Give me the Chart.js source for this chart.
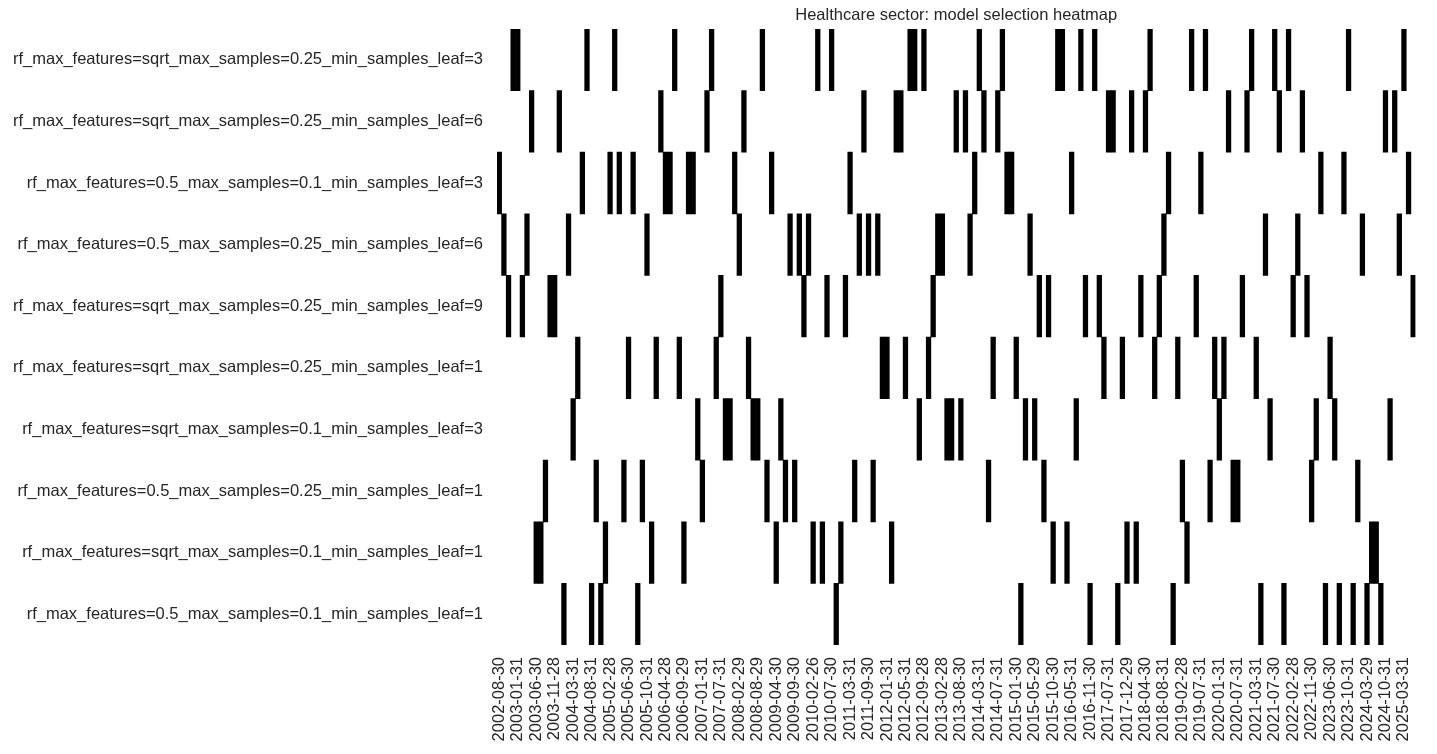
<!DOCTYPE html>
<html>
<head>
<meta charset="utf-8">
<script src="https://cdn.jsdelivr.net/npm/chart.js@4"></script>
<style>
  html, body { margin: 0; padding: 0; background: #fff; }
  #wrap { width: 1437px; height: 754px; }
</style>
</head>
<body>
<div id="wrap"><canvas id="chart"></canvas></div>
<script>
// Model names (rows, top to bottom)
const models = [
  'rf_max_features=sqrt_max_samples=0.25_min_samples_leaf=3',
  'rf_max_features=sqrt_max_samples=0.25_min_samples_leaf=6',
  'rf_max_features=0.5_max_samples=0.1_min_samples_leaf=3',
  'rf_max_features=0.5_max_samples=0.25_min_samples_leaf=6',
  'rf_max_features=sqrt_max_samples=0.25_min_samples_leaf=9',
  'rf_max_features=sqrt_max_samples=0.25_min_samples_leaf=1',
  'rf_max_features=sqrt_max_samples=0.1_min_samples_leaf=3',
  'rf_max_features=0.5_max_samples=0.25_min_samples_leaf=1',
  'rf_max_features=sqrt_max_samples=0.1_min_samples_leaf=1',
  'rf_max_features=0.5_max_samples=0.1_min_samples_leaf=1',
];

// Tick labels shown on the x axis (every 4th rebalance date)
const tickLabels = [
  '2002-08-30','2003-01-31','2003-06-30','2003-11-28','2004-03-31','2004-08-31',
  '2005-02-28','2005-06-30','2005-10-31','2006-04-28','2006-09-29','2007-01-31',
  '2007-07-31','2008-02-29','2008-08-29','2009-04-30','2009-09-30','2010-02-26',
  '2010-07-30','2011-03-31','2011-09-30','2012-01-31','2012-05-31','2012-09-28',
  '2013-02-28','2013-08-30','2014-03-31','2014-07-31','2015-01-30','2015-05-29',
  '2015-10-30','2016-05-31','2016-11-30','2017-07-31','2017-12-29','2018-04-30',
  '2018-08-31','2019-02-28','2019-07-31','2020-01-31','2020-07-31','2021-03-31',
  '2021-07-30','2022-02-28','2022-11-30','2023-06-30','2023-10-31','2024-03-29',
  '2024-10-31','2025-03-31',
];
const tickStep = 4;

// Selected model (row index) for each rebalance date
const selected = [
  2,3,4,0,0,4,3,1,8,8,7,4,4,1,9,3,6,5,2,0,9,7,9,8,
  2,0,2,7,5,2,9,7,3,8,5,1,2,2,0,5,8,2,2,6,7,1,0,5,
  4,6,6,2,3,1,5,6,6,0,7,2,8,6,7,3,7,3,4,3,8,0,8,4,0,
  9,8,4,2,7,3,1,3,7,3,5,5,8,1,1,5,0,0,6,0,5,4,3,3,
  6,6,1,6,1,3,2,0,1,7,5,1,0,2,2,5,9,6,3,6,4,7,4,8,
  0,0,8,2,6,0,4,9,0,4,5,1,1,9,5,8,1,8,4,1,0,5,4,3,2,9,
  5,7,8,0,4,2,0,7,5,6,5,1,7,7,4,1,0,5,9,3,6,0,1,9,
  0,4,3,1,4,7,6,2,9,5,6,9,2,0,9,7,3,9,8,8,9,1,6,1,3,0,2,4,
];

const labels = selected.map((_, i) => i % tickStep === 0 ? (tickLabels[i / tickStep] || '') : '');

const fontFamily = '"Liberation Sans", Arial, sans-serif';
const font = { family: fontFamily, size: 16.5 };

const titlePlugin = {
  id: 'heatTitle',
  afterDraw(chart) {
    const { ctx, chartArea } = chart;
    ctx.save();
    ctx.fillStyle = '#262626';
    ctx.font = '16.5px ' + fontFamily;
    ctx.textAlign = 'center';
    ctx.textBaseline = 'middle';
    ctx.fillText('Healthcare sector: model selection heatmap', (chartArea.left + chartArea.right) / 2, 15);
    ctx.restore();
  },
};

new Chart(document.getElementById('chart'), {
  type: 'bar',
  data: {
    labels,
    datasets: [{
      data: selected.map(r => [r, r + 1]),
      backgroundColor: '#000',
      borderWidth: 0,
      barPercentage: 1,
      categoryPercentage: 1,
    }],
  },
  options: {
    responsive: true,
    maintainAspectRatio: false,
    animation: false,
    layout: { padding: { top: 29, right: 10, left: 0, bottom: 0 } },
    plugins: { legend: { display: false }, tooltip: { enabled: false } },
    scales: {
      x: {
        grid: { display: false },
        border: { display: false },
        ticks: {
          autoSkip: false, maxRotation: 90, minRotation: 90,
          color: '#262626', font, padding: 4,
          callback: (v, i) => labels[i],
        },
        afterFit: s => { s.height = 109; },
      },
      y: {
        type: 'linear', min: 0, max: 10, reverse: true,
        grid: { display: false },
        border: { display: false },
        afterBuildTicks: s => { s.ticks = models.map((_, i) => ({ value: i + 0.5 })); },
        ticks: {
          color: '#262626', font, padding: 6,
          callback: v => models[Math.round(v - 0.5)],
        },
        afterFit: s => { s.width = 497; },
      },
    },
  },
  plugins: [titlePlugin],
});
</script>
</body>
</html>
